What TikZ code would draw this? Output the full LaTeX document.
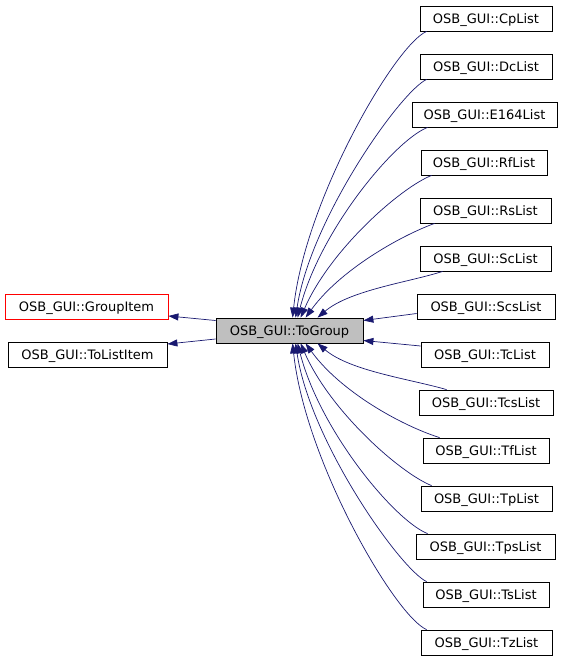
\documentclass[tikz,border=0pt]{standalone}
\usepackage{fontspec}
\setmainfont{DejaVu Sans}
\usetikzlibrary{arrows.meta,calc}
\definecolor{edgeblue}{HTML}{191970}
\definecolor{boxgray}{HTML}{BFBFBF}
\begin{document}
\begin{tikzpicture}[x=1pt,y=-1pt,
 box/.style={draw=black, rectangle, inner sep=0pt, minimum height=25pt, text height=9.5pt, text depth=0pt, font=\fontsize{13}{15}\selectfont, line width=0.8pt},
 edge/.style={draw=edgeblue, line width=0.7pt, -{Triangle[length=10pt,width=7pt]}}
]
\useasboundingbox (0,0) rectangle (565,659);
% left and centre
\node[box, draw=red, minimum width=163pt] (gi) at (86.5,306.5) {OSB\_GUI::GroupItem};
\node[box, minimum width=159pt] (tli) at (87.5,354.5) {OSB\_GUI::ToListItem};
\node[box, fill=boxgray, minimum width=147pt] (tg) at (289.5,330.5) {OSB\_GUI::ToGroup};
% right column
\node[box, minimum width=132pt] (cp)   at (486,18.5)   {OSB\_GUI::CpList};
\node[box, minimum width=132pt] (dc)   at (486,66.5)   {OSB\_GUI::DcList};
\node[box, minimum width=145pt] (e164) at (484.5,114.5) {OSB\_GUI::E164List};
\node[box, minimum width=126pt] (rf)   at (484,162.5)  {OSB\_GUI::RfList};
\node[box, minimum width=131pt] (rs)   at (485.5,210.5) {OSB\_GUI::RsList};
\node[box, minimum width=131pt] (sc)   at (485.5,258.5) {OSB\_GUI::ScList};
\node[box, minimum width=138pt] (scs)  at (486,306.5)  {OSB\_GUI::ScsList};
\node[box, minimum width=128pt] (tc)   at (485,354.5)  {OSB\_GUI::TcList};
\node[box, minimum width=134pt] (tcs)  at (486,402.5)  {OSB\_GUI::TcsList};
\node[box, minimum width=126pt] (tf)   at (486,450.5)  {OSB\_GUI::TfList};
\node[box, minimum width=131pt] (tp)   at (486.5,498.5) {OSB\_GUI::TpList};
\node[box, minimum width=139pt] (tps)  at (485.5,546.5) {OSB\_GUI::TpsList};
\node[box, minimum width=126pt] (ts)   at (486,594.5)  {OSB\_GUI::TsList};
\node[box, minimum width=131pt] (tz)   at (486.5,642.5) {OSB\_GUI::TzList};
% left edges
\draw[edge] ($(tg.west)+(0,-10)$) -- ($(gi.east)+(0,9.5)$);
\draw[edge] ($(tg.west)+(0,8.5)$) -- ($(tli.east)+(0,-10.5)$);
% top curves
\draw[edge] ($(cp.south west)+(7,0)$) .. controls (395,45) and (305,200) .. ($(tg.north west)+(77,0)$);
\draw[edge] ($(dc.south west)+(7,0)$) .. controls (400,92) and (310,220) .. ($(tg.north west)+(80,0)$);
\draw[edge] ($(e164.south west)+(16,0)$) .. controls (395,140) and (320,230) .. ($(tg.north west)+(82,0)$);
\draw[edge] ($(rf.south west)+(11,0)$) .. controls (400,188) and (330,250) .. ($(tg.north west)+(85,0)$);
\draw[edge] ($(rs.south west)+(15,0)$) .. controls (400,236) and (340,270) .. ($(tg.north west)+(90,0)$);
\draw[edge] ($(sc.south west)+(23,0)$) .. controls (410,282) and (350,290) .. ($(tg.north west)+(102,0)$);
% side edges
\draw[edge] ($(scs.west)+(0,7)$) -- ($(tg.east)+(0,-10)$);
\draw[edge] ($(tc.west)+(0,-8.5)$) -- ($(tg.east)+(0,10)$);
% bottom curves
\draw[edge] ($(tcs.north west)+(28,0)$) .. controls (410,379) and (350,371) .. ($(tg.south west)+(102,0)$);
\draw[edge] ($(tf.north west)+(17,0)$) .. controls (400,425) and (340,391) .. ($(tg.south west)+(90,0)$);
\draw[edge] ($(tp.north west)+(11,0)$) .. controls (400,473) and (330,411) .. ($(tg.south west)+(85,0)$);
\draw[edge] ($(tps.north west)+(12,0)$) .. controls (395,521) and (320,431) .. ($(tg.south west)+(82,0)$);
\draw[edge] ($(ts.north west)+(4,0)$) .. controls (400,569) and (310,441) .. ($(tg.south west)+(80,0)$);
\draw[edge] ($(tz.north west)+(6,0)$) .. controls (395,616) and (305,461) .. ($(tg.south west)+(77,0)$);
\end{tikzpicture}
\end{document}
